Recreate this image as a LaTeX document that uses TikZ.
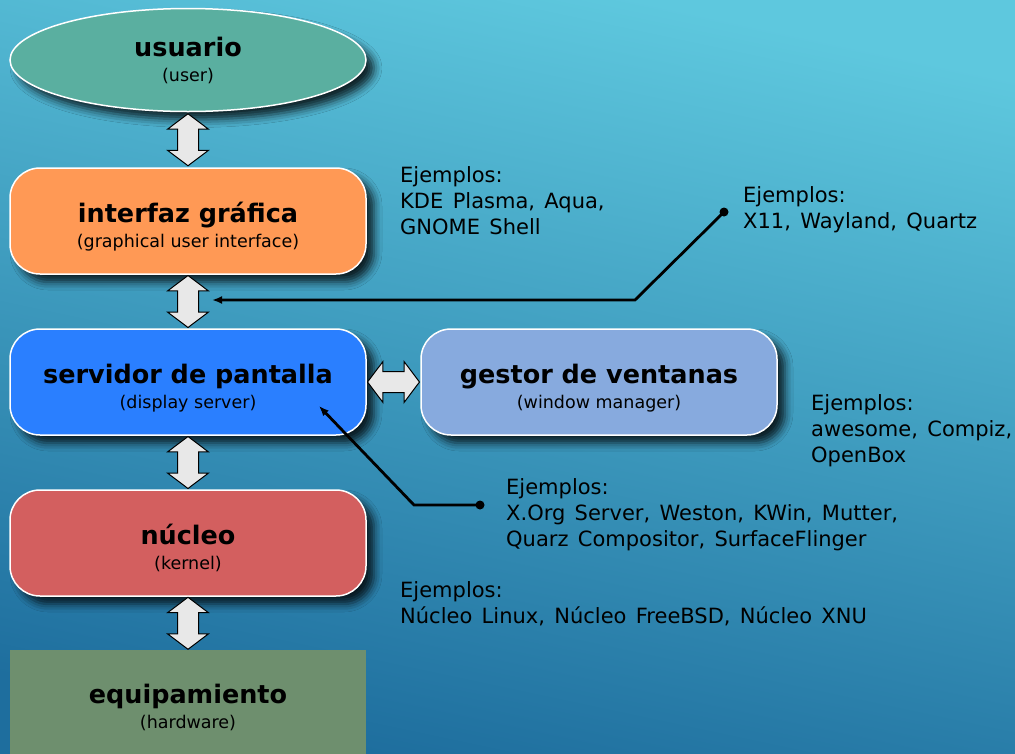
\documentclass[tikz,border=0pt]{standalone}
\usepackage{fontspec}
\setmainfont{DejaVu Sans}
\newfontfamily\exfont[WordSpace=1.4]{DejaVu Sans}
\usetikzlibrary{shapes.geometric,shapes.arrows,arrows.meta,calc,shadows.blur}
\definecolor{bgtop}{RGB}{94,200,222}
\definecolor{bgmid}{RGB}{64,176,208}
\definecolor{bgbottom}{RGB}{30,110,158}
\definecolor{usercolor}{RGB}{90,175,160}
\definecolor{guicolor}{RGB}{255,153,85}
\definecolor{servercolor}{RGB}{42,127,255}
\definecolor{wmcolor}{RGB}{135,170,222}
\definecolor{kernelcolor}{RGB}{211,95,95}
\definecolor{hwcolor}{RGB}{110,143,110}
\definecolor{fatgray}{RGB}{232,232,232}
\newcommand{\ttl}[1]{{\fontsize{25.5}{26}\selectfont\bfseries #1}}
\newcommand{\subt}[1]{{\fontsize{17.5}{20}\selectfont #1}}
\newcommand{\lift}[1]{\rule{0pt}{#1}}
\begin{document}
\begin{tikzpicture}[x=1pt, y=-1pt]
        \tikzstyle{layer}=[draw=white, line width=1.5pt, minimum width=356pt, minimum height=106pt,
            align=center, font=\fontsize{16}{25}\selectfont,
            blur shadow={shadow xshift=8pt, shadow yshift=-8pt, shadow blur radius=8pt, shadow opacity=80}]
        \tikzstyle{rbox}=[layer, rectangle, rounded corners=30pt]
        \tikzstyle{fat}=[double arrow, draw=black, fill=fatgray, line width=1pt, inner xsep=0pt, inner ysep=10pt,
            minimum height=52pt, double arrow head extend=10pt, double arrow tip angle=106]
        \tikzstyle{examples}=[anchor=north west, inner sep=0pt, align=left, font=\exfont\fontsize{21}{26}\selectfont]
        \tikzstyle{leader}=[line width=2.8pt, black]
        % background
        \useasboundingbox (0,0) rectangle (1015,753);
        \shade[top color=bgtop, middle color=bgmid, bottom color=bgbottom, shading angle=-12] (0,0) rectangle (1015,753);
        % Layers
        \node[layer, ellipse, fill=usercolor, minimum height=103pt] (user) at (188,60)
            {\ttl{usuario}\\\subt{(user)}};
        \node[rbox, fill=guicolor] (gui) at (188,221)
            {\lift{31pt}\ttl{interfaz gráfica}\\\subt{(graphical user interface)}};
        \node[rbox, fill=servercolor] (server) at (188,382)
            {\lift{32pt}\ttl{servidor de pantalla}\\\subt{(display server)}};
        \node[rbox, fill=wmcolor] (wm) at (599,382)
            {\lift{32pt}\ttl{gestor de ventanas}\\\subt{(window manager)}};
        \node[rbox, fill=kernelcolor] (kernel) at (188,543)
            {\lift{30pt}\ttl{núcleo}\\\subt{(kernel)}};
        \node[rectangle, fill=hwcolor, minimum width=356pt, minimum height=110pt, align=center,
            font=\fontsize{16}{25}\selectfont] (hw) at (188,705)
            {\lift{24pt}\ttl{equipamiento}\\\subt{(hardware)}};
        % Fat arrows
        \node[fat, rotate=90] (a1) at ($(user.south)!0.5!(gui.north)$) {};
        \node[fat, rotate=90] (a2) at ($(gui.south)!0.5!(server.north)$) {};
        \node[fat, rotate=90] (a3) at ($(server.south)!0.5!(kernel.north)$) {};
        \node[fat, rotate=90] (a4) at ($(kernel.south)!0.5!(hw.north)$) {};
        \node[fat] (a5) at ($(server.east)!0.5!(wm.west)$) {};
        % Examples
        \node[examples] (guiex) at (400,166) {Ejemplos:\\KDE Plasma, Aqua,\\GNOME Shell};
        \node[examples] (dispex) at (743,186) {Ejemplos:\\X11, Wayland, Quartz};
        \node[examples] (wmex) at (811,394) {Ejemplos:\\awesome, Compiz,\\OpenBox};
        \node[examples] (serverex) at (506,478) {Ejemplos:\\X.Org Server, Weston, KWin, Mutter,\\Quarz Compositor, SurfaceFlinger};
        \node[examples] (kernelex) at (400,581) {Ejemplos:\\Núcleo Linux, Núcleo FreeBSD, Núcleo XNU};
        % Leaders
        \coordinate (dispdot) at (724,212);
        \coordinate (dispbend) at (635,300);
        \coordinate (disptip) at (212,300);
        \coordinate (serverdot) at (480,505);
        \coordinate (serverbend) at (414,505);
        \coordinate (servertip) at (319,406);
        \fill (dispdot) circle (4.5pt);
        \draw[leader, -{Latex[length=10pt, width=8pt]}] (dispdot) -- (dispbend) -- (disptip);
        \fill (serverdot) circle (4.5pt);
        \draw[leader, -{Latex[length=10pt, width=8pt]}] (serverdot) -- (serverbend) -- (servertip);
\end{tikzpicture}
\end{document}
